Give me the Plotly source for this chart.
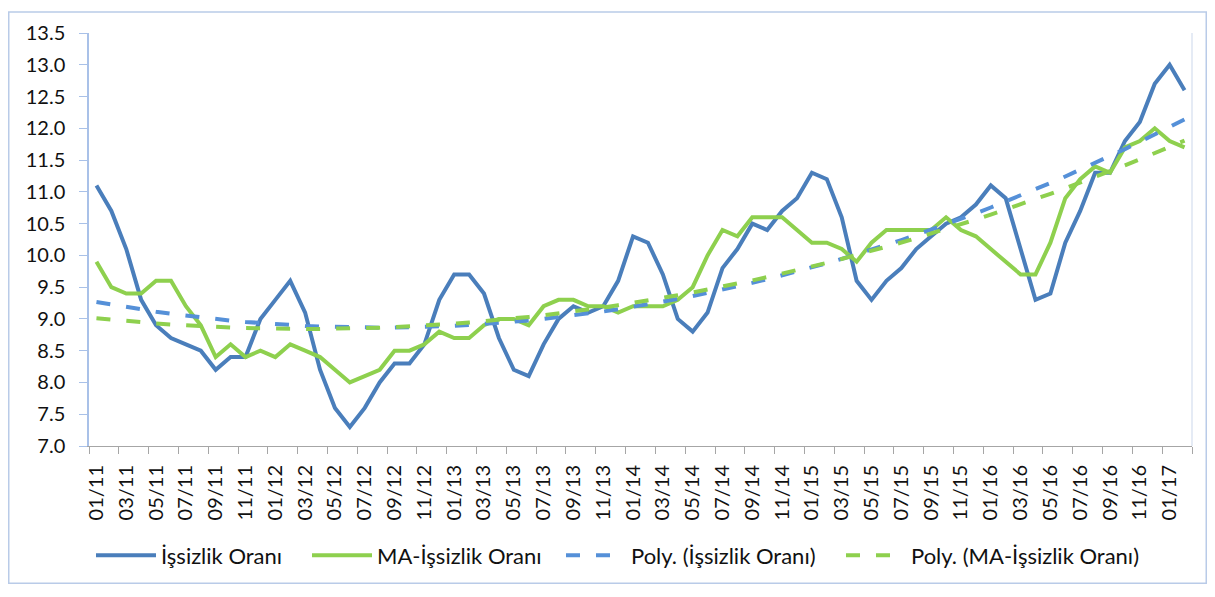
import numpy as np
import plotly.graph_objects as go

# ---- data (monthly, 01/2011 .. 02/2017) ----
years = ["11", "12", "13", "14", "15", "16", "17"]
month_codes = ["01", "02", "03", "04", "05", "06", "07", "08", "09", "10", "11", "12"]
categories = [f"{m}/{y}" for y in years for m in month_codes][:74]

unemployment = [11.1, 10.7, 10.1, 9.3, 8.9, 8.7, 8.6, 8.5, 8.2, 8.4,
                8.4, 9.0, 9.3, 9.6, 9.1, 8.2, 7.6, 7.3, 7.6, 8.0,
                8.3, 8.3, 8.6, 9.3, 9.7, 9.7, 9.4, 8.7, 8.2, 8.1,
                8.6, 9.0, 9.2, 9.1, 9.2, 9.6, 10.3, 10.2, 9.7, 9.0,
                8.8, 9.1, 9.8, 10.1, 10.5, 10.4, 10.7, 10.9, 11.3, 11.2,
                10.6, 9.6, 9.3, 9.6, 9.8, 10.1, 10.3, 10.5, 10.6, 10.8,
                11.1, 10.9, 10.1, 9.3, 9.4, 10.2, 10.7, 11.3, 11.3, 11.8,
                12.1, 12.7, 13.0, 12.6]

ma_unemployment = [9.9, 9.5, 9.4, 9.4, 9.6, 9.6, 9.2, 8.9, 8.4, 8.6,
                   8.4, 8.5, 8.4, 8.6, 8.5, 8.4, 8.2, 8.0, 8.1, 8.2,
                   8.5, 8.5, 8.6, 8.8, 8.7, 8.7, 8.9, 9.0, 9.0, 8.9,
                   9.2, 9.3, 9.3, 9.2, 9.2, 9.1, 9.2, 9.2, 9.2, 9.3,
                   9.5, 10.0, 10.4, 10.3, 10.6, 10.6, 10.6, 10.4, 10.2, 10.2,
                   10.1, 9.9, 10.2, 10.4, 10.4, 10.4, 10.4, 10.6, 10.4, 10.3,
                   10.1, 9.9, 9.7, 9.7, 10.2, 10.9, 11.2, 11.4, 11.3, 11.7,
                   11.8, 12.0, 11.8, 11.7]

series_names = ["İşsizlik Oranı", "MA-İşsizlik Oranı",
                "Poly. (İşsizlik Oranı)", "Poly. (MA-İşsizlik Oranı)"]

# x positions of categories
xpos = np.arange(len(categories))

# polynomial (order 2) trendlines, as in the spreadsheet chart
trend_u = np.polyval(np.polyfit(xpos, unemployment, 2), xpos)
trend_ma = np.polyval(np.polyfit(xpos, ma_unemployment, 2), xpos)

BLUE = "#4A7EBB"
GREEN = "#8ED04E"
BLUE_D = "#5590D8"
GREEN_D = "#8ED04E"
FONT = "Lato"

# figure geometry (page body adds an 8px offset)
W, H = 1199, 581
ML, MR, MT, MB = 81, 15, 22, 140
PW, PH = W - ML - MR, H - MT - MB


def px_x(fx):
    return (fx - ML) / PW


def px_y(fy):
    return (H - MB - fy) / PH


fig = go.Figure()
fig.add_trace(go.Scatter(x=xpos, y=unemployment, mode="lines", name=series_names[0],
                         line=dict(color=BLUE, width=4), legend="legend"))
fig.add_trace(go.Scatter(x=xpos, y=ma_unemployment, mode="lines", name=series_names[1],
                         line=dict(color=GREEN, width=4), legend="legend2"))
fig.add_trace(go.Scatter(x=xpos, y=trend_u, mode="lines", name=series_names[2],
                         line=dict(color=BLUE_D, width=4, dash="14px,16px"), legend="legend3"))
fig.add_trace(go.Scatter(x=xpos, y=trend_ma, mode="lines", name=series_names[3],
                         line=dict(color=GREEN_D, width=4, dash="14px,16px"), legend="legend4"))

tick_idx = list(range(0, len(categories), 2))
fig.update_xaxes(
    range=[-0.5, len(categories) - 0.5],
    tickmode="array",
    tickvals=tick_idx,
    ticktext=[categories[i] for i in tick_idx],
    tickangle=-90,
    ticks="",
    ticklabelstandoff=10,
    showline=True, linecolor="#A6A6A6", linewidth=1,
    showgrid=False, zeroline=False,
    tickfont=dict(family=FONT, size=20, color="#111111"),
    minor=dict(tickvals=[-0.5 + 2 * k for k in range(38)], ticks="outside",
               ticklen=7, tickcolor="#A6A6A6", tickwidth=1, showgrid=False),
)
fig.update_yaxes(
    range=[7, 13.5], tick0=7, dtick=0.5, tickformat=".1f",
    ticks="outside", ticklen=8, tickcolor="#A9C1E8", tickwidth=1,
    showline=True, linecolor="#A9C1E8", linewidth=1.5,
    ticklabelstandoff=10,
    showgrid=False, zeroline=False,
    tickfont=dict(family=FONT, size=20, color="#111111"),
)

legend_font = dict(family=FONT, size=22, color="#111111")
leg_y = px_y(552)
ITEMW = 60
# text start positions (figure px) of each legend entry
text_starts = [153, 369, 623, 903]
legends = {}
for k, ts in enumerate(text_starts):
    key = "legend" if k == 0 else f"legend{k + 1}"
    legends[key] = dict(orientation="h", x=px_x(ts - 40 - (ITEMW - 30)), xanchor="left",
                        y=leg_y, yanchor="middle", font=legend_font, itemwidth=ITEMW,
                        bgcolor="rgba(0,0,0,0)", borderwidth=0)

fig.update_layout(
    width=W, height=H,
    margin=dict(l=ML, r=MR, t=MT, b=MB),
    paper_bgcolor="white", plot_bgcolor="white",
    showlegend=True,
    **legends,
    shapes=[
        dict(type="rect", xref="paper", yref="paper", x0=px_x(0.75), x1=px_x(W - 0.75),
             y0=px_y(H - 0.75), y1=px_y(0.75), line=dict(color="#B9CBE8", width=1.5), layer="below"),
        dict(type="line", xref="paper", yref="paper", x0=1, x1=1, y0=0, y1=1,
             line=dict(color="#DCE4F2", width=1.5), layer="below"),
    ],
)

fig.write_html("out.html")
